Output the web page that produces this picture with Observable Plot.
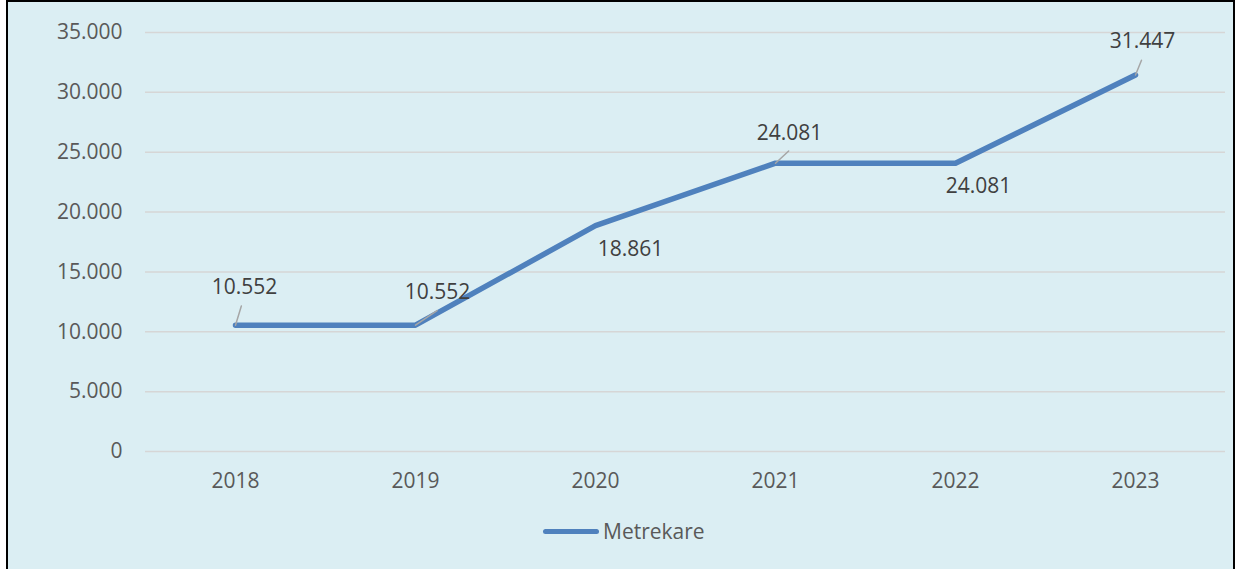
<!DOCTYPE html>
<html>
<head>
<meta charset="utf-8">
<script src="https://cdn.jsdelivr.net/npm/d3@7"></script>
<script src="https://cdn.jsdelivr.net/npm/@observablehq/plot@0.6"></script>
<style>
  html, body { margin: 0; padding: 0; background: #ffffff; }
  body { width: 1236px; height: 569px; position: relative; overflow: hidden; font-family: "Open Sans", sans-serif; }
  #frame { position: absolute; left: 6px; top: 0; width: 1225px; height: 600px; border: 2px solid #000; background: #DBEEF3; }
  #chart { position: absolute; left: 0; top: 0; }
  #legend { position: absolute; left: 543px; top: 517px; display: flex; align-items: center; color: #595959; font-size: 21px; }
  #legend .swatch { width: 56px; height: 5px; border-radius: 3px; background: #4F81BD; margin-right: 4px; }
</style>
</head>
<body>
<div id="frame"></div>
<div id="chart"></div>
<div id="legend"><span class="swatch"></span><span>Metrekare</span></div>
<script>
// ---- data ----
const years = ["2018", "2019", "2020", "2021", "2022", "2023"];
const metrekare = [10552, 10552, 18861, 24081, 24081, 31447];
const yTicks = [0, 5000, 10000, 15000, 20000, 25000, 30000, 35000];
const seriesName = "Metrekare";

const rows = years.map((y, i) => ({year: y, value: metrekare[i]}));

const fmt = d3.formatLocale({decimal: ",", thousands: ".", grouping: [3], currency: ["", ""]}).format(",");

// label placement (pixel offsets from each point), leader lines
const labelPlacement = [
  {dx: 9, dy: -38, lead: {len: 20, rot: 17}},
  {dx: 22, dy: -33, lead: {len: 26, rot: 56}},
  {dx: 35, dy: 24, lead: null},
  {dx: 14, dy: -30, lead: {len: 18, rot: 47}},
  {dx: 23, dy: 23, lead: null},
  {dx: 7, dy: -34, lead: {len: 16, rot: 22}}
];

const leaderShape = {
  draw(context, l) { context.moveTo(0, 0); context.lineTo(0, -l); }
};

const FS = 21;

const marks = [
  Plot.gridY(yTicks, {stroke: "#d6d6d6", strokeOpacity: 1, strokeWidth: 1.5}),
  Plot.axisY(yTicks, {tickSize: 0, tickPadding: 23, tickFormat: fmt, fontSize: FS, fill: "#595959", label: null}),
  Plot.axisX({tickSize: 0, tickPadding: 22, fontSize: FS, fill: "#595959", label: null}),
  Plot.line(rows, {x: "year", y: "value", stroke: "#4F81BD", strokeWidth: 5.5, strokeLinecap: "round", strokeLinejoin: "round"})
];

rows.forEach((r, i) => {
  const p = labelPlacement[i];
  if (p.lead) {
    marks.push(Plot.vector([r], {x: "year", y: "value", length: p.lead.len, rotate: p.lead.rot, anchor: "start", shape: leaderShape, stroke: "#A6A6A6", strokeWidth: 1.5}));
  }
  marks.push(Plot.text([r], {x: "year", y: "value", text: d => fmt(d.value), dx: p.dx, dy: p.dy, fontSize: FS, fill: "#404040", textAnchor: "middle", lineAnchor: "middle"}));
});

const chart = Plot.plot({
  width: 1236,
  height: 500,
  marginLeft: 145,
  marginRight: 11,
  marginTop: 32,
  marginBottom: 49,
  style: {background: "transparent", fontFamily: "'Open Sans', sans-serif", fontSize: FS + "px", color: "#595959", overflow: "visible"},
  x: {type: "point", domain: years, padding: 0.5},
  y: {domain: [0, 35000]},
  marks
});
document.getElementById("chart").appendChild(chart);
</script>
</body>
</html>
